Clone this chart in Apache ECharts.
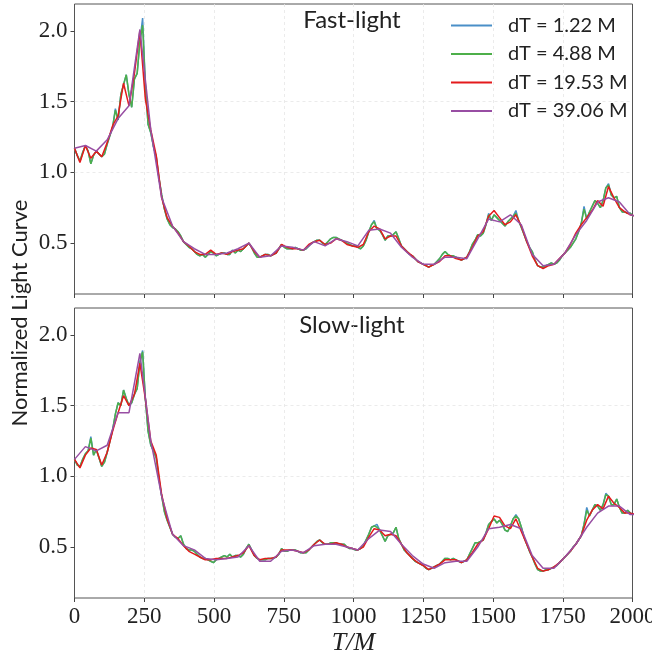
<!DOCTYPE html>
<html><head><meta charset="utf-8">
<script src="https://cdn.jsdelivr.net/npm/echarts@6/dist/echarts.min.js"></script>
<style>html,body{margin:0;padding:0;background:#fff}#c{width:652px;height:656px}</style>
</head><body><div id="c"></div>
<script>
// ---- data ----
const seriesNames = ['dT = 1.22 M', 'dT = 4.88 M', 'dT = 19.53 M', 'dT = 39.06 M'];
const panelTitles = ['Fast-light', 'Slow-light'];
const xTicks = [0, 250, 500, 750, 1000, 1250, 1500, 1750, 2000];
const yTicks = [0.5, 1.0, 1.5, 2.0];
const axisTitles = { x: 'T/M', y: 'Normalized Light Curve' };
// sample spacing (in M) of the traced curves
const fineStep = 9.766;
const redStep = 19.53;
const purpleStep = 39.06;

const fastBlue = [
1.17,1.12,1.08,1.14,1.19,1.15,1.06,1.12,1.15,1.13,
1.11,1.13,1.20,1.26,1.32,1.45,1.37,1.55,1.62,1.69,
1.55,1.46,1.66,1.70,1.93,2.09,1.62,1.34,1.28,1.18,
1.11,0.96,0.84,0.74,0.67,0.63,0.61,0.60,0.58,0.55,
0.51,0.49,0.47,0.46,0.44,0.42,0.41,0.42,0.40,0.42,
0.44,0.43,0.41,0.42,0.43,0.43,0.42,0.42,0.45,0.43,
0.45,0.44,0.46,0.48,0.50,0.47,0.43,0.40,0.40,0.41,
0.42,0.42,0.41,0.42,0.43,0.46,0.49,0.47,0.46,0.46,
0.46,0.47,0.46,0.45,0.45,0.46,0.48,0.50,0.51,0.52,
0.52,0.50,0.49,0.51,0.53,0.54,0.54,0.53,0.52,0.51,
0.50,0.49,0.48,0.48,0.47,0.46,0.48,0.52,0.58,0.63,
0.66,0.60,0.59,0.56,0.52,0.55,0.55,0.56,0.58,0.53,
0.48,0.46,0.44,0.42,0.41,0.39,0.37,0.36,0.35,0.34,
0.33,0.34,0.35,0.37,0.39,0.42,0.44,0.42,0.41,0.41,
0.40,0.39,0.38,0.39,0.40,0.44,0.49,0.52,0.56,0.55,
0.57,0.63,0.71,0.66,0.70,0.68,0.66,0.64,0.62,0.65,
0.67,0.69,0.73,0.66,0.61,0.56,0.51,0.47,0.44,0.38,
0.34,0.33,0.33,0.34,0.35,0.36,0.35,0.36,0.38,0.41,
0.43,0.45,0.47,0.50,0.53,0.58,0.64,0.76,0.67,0.72,
0.76,0.80,0.78,0.75,0.80,0.89,0.92,0.84,0.82,0.83,
0.75,0.72,0.72,0.71,0.71,0.69];
const fastGreen = [
1.17,1.12,1.08,1.14,1.19,1.15,1.06,1.12,1.15,1.13,
1.11,1.13,1.20,1.26,1.32,1.44,1.37,1.55,1.62,1.69,
1.55,1.46,1.66,1.70,1.92,2.04,1.62,1.34,1.28,1.18,
1.11,0.96,0.84,0.74,0.67,0.63,0.61,0.60,0.58,0.55,
0.51,0.49,0.47,0.46,0.44,0.42,0.41,0.42,0.40,0.42,
0.44,0.43,0.41,0.42,0.43,0.43,0.42,0.42,0.45,0.43,
0.45,0.44,0.46,0.48,0.50,0.47,0.43,0.40,0.40,0.41,
0.42,0.42,0.41,0.42,0.43,0.46,0.49,0.47,0.46,0.46,
0.46,0.47,0.46,0.45,0.45,0.46,0.48,0.50,0.51,0.52,
0.52,0.50,0.49,0.51,0.53,0.54,0.54,0.53,0.52,0.51,
0.50,0.49,0.48,0.48,0.47,0.46,0.48,0.52,0.58,0.63,
0.65,0.60,0.59,0.56,0.52,0.55,0.55,0.56,0.58,0.53,
0.48,0.46,0.44,0.42,0.41,0.39,0.37,0.36,0.35,0.34,
0.33,0.34,0.35,0.37,0.39,0.42,0.44,0.42,0.41,0.41,
0.40,0.39,0.38,0.39,0.40,0.44,0.49,0.52,0.56,0.55,
0.57,0.63,0.70,0.66,0.70,0.68,0.66,0.64,0.62,0.65,
0.67,0.69,0.71,0.66,0.61,0.56,0.51,0.47,0.44,0.38,
0.34,0.33,0.33,0.34,0.35,0.36,0.35,0.36,0.38,0.41,
0.43,0.45,0.47,0.50,0.53,0.58,0.64,0.74,0.67,0.72,
0.76,0.80,0.78,0.75,0.80,0.89,0.91,0.84,0.82,0.83,
0.75,0.72,0.72,0.71,0.71,0.69];
const fastRed = [
1.17,1.07,1.19,1.10,1.15,1.11,1.21,1.33,1.40,1.63,
1.47,1.70,2.00,1.52,1.30,1.12,0.82,0.68,0.62,0.57,
0.51,0.48,0.44,0.42,0.42,0.45,0.42,0.43,0.42,0.44,
0.45,0.46,0.50,0.44,0.40,0.42,0.41,0.43,0.49,0.47,
0.46,0.46,0.45,0.49,0.51,0.52,0.49,0.50,0.53,0.52,
0.49,0.48,0.47,0.49,0.58,0.62,0.60,0.53,0.55,0.55,
0.48,0.44,0.41,0.37,0.35,0.33,0.35,0.37,0.41,0.41,
0.39,0.38,0.40,0.47,0.55,0.58,0.69,0.73,0.68,0.63,
0.65,0.70,0.62,0.51,0.41,0.34,0.32,0.34,0.35,0.39,
0.43,0.49,0.57,0.63,0.68,0.73,0.80,0.76,0.90,0.82,
0.75,0.72,0.70,0.69];
const fastPurple = [
1.17,1.19,1.15,1.23,1.38,1.47,2.01,1.30,0.82,0.62,
0.51,0.46,0.42,0.42,0.43,0.46,0.50,0.40,0.41,0.48,
0.47,0.45,0.51,0.48,0.53,0.51,0.48,0.59,0.60,0.57,
0.47,0.40,0.35,0.35,0.40,0.40,0.39,0.53,0.67,0.65,
0.70,0.63,0.42,0.34,0.35,0.43,0.56,0.66,0.79,0.82,
0.79,0.70,0.68];

const slowBlue = [
1.12,1.08,1.07,1.12,1.16,1.18,1.28,1.15,1.19,1.13,
1.07,1.10,1.17,1.25,1.33,1.44,1.52,1.50,1.61,1.55,
1.50,1.52,1.58,1.62,1.81,1.89,1.55,1.32,1.22,1.18,
1.13,0.98,0.86,0.75,0.69,0.64,0.59,0.57,0.56,0.58,
0.52,0.49,0.48,0.48,0.47,0.45,0.43,0.42,0.42,0.41,
0.40,0.39,0.41,0.42,0.43,0.44,0.43,0.45,0.43,0.44,
0.44,0.43,0.45,0.49,0.52,0.48,0.44,0.42,0.41,0.41,
0.41,0.42,0.42,0.42,0.43,0.45,0.49,0.47,0.47,0.48,
0.48,0.48,0.47,0.46,0.46,0.46,0.48,0.50,0.52,0.54,
0.55,0.53,0.52,0.52,0.53,0.53,0.53,0.52,0.52,0.52,
0.50,0.49,0.49,0.48,0.48,0.49,0.51,0.55,0.59,0.64,
0.65,0.66,0.62,0.58,0.54,0.58,0.59,0.60,0.64,0.56,
0.52,0.48,0.46,0.44,0.42,0.40,0.39,0.38,0.37,0.35,
0.34,0.35,0.36,0.37,0.38,0.40,0.42,0.42,0.41,0.42,
0.41,0.40,0.39,0.40,0.41,0.45,0.49,0.53,0.53,0.54,
0.55,0.60,0.66,0.68,0.70,0.67,0.69,0.66,0.62,0.61,
0.65,0.70,0.73,0.70,0.64,0.57,0.52,0.47,0.43,0.38,
0.34,0.33,0.33,0.34,0.34,0.35,0.36,0.37,0.39,0.41,
0.43,0.45,0.47,0.50,0.52,0.55,0.58,0.66,0.78,0.72,
0.76,0.80,0.79,0.76,0.80,0.88,0.86,0.80,0.80,0.84,
0.78,0.74,0.74,0.76,0.74,0.73];
const slowGreen = [
1.12,1.08,1.07,1.12,1.16,1.18,1.27,1.15,1.19,1.13,
1.07,1.10,1.17,1.25,1.33,1.44,1.52,1.50,1.61,1.55,
1.50,1.52,1.58,1.62,1.80,1.88,1.55,1.32,1.22,1.18,
1.13,0.98,0.86,0.75,0.69,0.64,0.59,0.57,0.56,0.58,
0.52,0.49,0.48,0.48,0.47,0.45,0.43,0.42,0.42,0.41,
0.40,0.39,0.41,0.42,0.43,0.44,0.43,0.45,0.43,0.44,
0.44,0.43,0.45,0.49,0.52,0.48,0.44,0.42,0.41,0.41,
0.41,0.42,0.42,0.42,0.43,0.45,0.49,0.47,0.47,0.48,
0.48,0.48,0.47,0.46,0.46,0.46,0.48,0.50,0.52,0.54,
0.55,0.53,0.52,0.52,0.53,0.53,0.53,0.52,0.52,0.52,
0.50,0.49,0.49,0.48,0.48,0.49,0.51,0.55,0.59,0.64,
0.65,0.64,0.62,0.58,0.54,0.58,0.59,0.60,0.64,0.56,
0.52,0.48,0.46,0.44,0.42,0.40,0.39,0.38,0.37,0.35,
0.34,0.35,0.36,0.37,0.38,0.40,0.42,0.42,0.41,0.42,
0.41,0.40,0.39,0.40,0.41,0.45,0.49,0.53,0.53,0.54,
0.55,0.60,0.66,0.68,0.70,0.67,0.69,0.66,0.62,0.61,
0.65,0.70,0.72,0.70,0.64,0.57,0.52,0.47,0.43,0.38,
0.34,0.33,0.33,0.34,0.34,0.35,0.36,0.37,0.39,0.41,
0.43,0.45,0.47,0.50,0.52,0.55,0.58,0.66,0.76,0.72,
0.76,0.80,0.79,0.76,0.80,0.87,0.86,0.80,0.80,0.84,
0.78,0.74,0.74,0.76,0.74,0.73];
const slowRed = [
1.12,1.06,1.15,1.20,1.19,1.08,1.17,1.32,1.45,1.57,
1.50,1.58,1.80,1.55,1.25,1.15,0.87,0.70,0.59,0.56,
0.51,0.47,0.45,0.43,0.41,0.41,0.42,0.42,0.42,0.43,
0.44,0.46,0.51,0.44,0.41,0.42,0.42,0.43,0.48,0.48,
0.48,0.47,0.46,0.48,0.52,0.55,0.52,0.52,0.53,0.52,
0.50,0.49,0.48,0.50,0.57,0.63,0.62,0.58,0.59,0.58,
0.52,0.46,0.42,0.39,0.37,0.34,0.36,0.38,0.41,0.41,
0.41,0.39,0.41,0.46,0.52,0.55,0.63,0.72,0.71,0.65,
0.63,0.70,0.61,0.52,0.43,0.35,0.33,0.34,0.36,0.39,
0.43,0.47,0.52,0.58,0.69,0.76,0.80,0.77,0.86,0.81,
0.78,0.74,0.74,0.73];
const slowPurple = [
1.12,1.21,1.18,1.22,1.45,1.45,1.87,1.25,0.86,0.59,
0.51,0.48,0.42,0.41,0.42,0.43,0.51,0.40,0.40,0.47,
0.48,0.46,0.51,0.52,0.52,0.50,0.48,0.56,0.62,0.61,
0.52,0.44,0.38,0.35,0.39,0.40,0.40,0.50,0.63,0.64,
0.66,0.63,0.44,0.35,0.35,0.43,0.52,0.64,0.74,0.79,
0.79,0.73,0.73];

// ---- chart ----
const colors = ['#4a8fc8', '#4daf4a', '#e41a1c', '#984ea3'];
const panels = [
  [fastBlue, fastGreen, fastRed, fastPurple],
  [slowBlue, slowGreen, slowRed, slowPurple]
];
const steps = [fineStep, fineStep, redStep, purpleStep];
const pts = (vals, step) => vals.map((v, i) => [+(i * step).toFixed(3), v]);

const serifFont = 'Liberation Serif';
const sansFont = 'Lato';
const textColor = '#222';

const grids = [
  { left: 74.5, right: 19.5, top: 4, height: 290, show: true, borderColor: '#555', borderWidth: 1, outerBoundsMode: 'none', containLabel: false },
  { left: 74.5, right: 19.5, top: 308, height: 290, show: true, borderColor: '#555', borderWidth: 1, outerBoundsMode: 'none', containLabel: false }
];

const gridLine = { show: true, showMinLine: false, showMaxLine: false, lineStyle: { color: '#e6e6e6', type: [3, 3], width: 0.8 } };

const xAxes = [0, 1].map(g => ({
  type: 'value', gridIndex: g, min: xTicks[0], max: xTicks[xTicks.length - 1], interval: 250,
  axisLine: { show: false },
  axisTick: { show: true, length: 4, lineStyle: { color: '#444', width: 1 } },
  axisLabel: { show: g === 1, formatter: v => String(v), fontFamily: serifFont, fontSize: 23, color: textColor, margin: 7 },
  splitLine: gridLine,
  name: g === 1 ? axisTitles.x : '', nameLocation: 'middle', nameGap: 32,
  nameTextStyle: { fontFamily: serifFont, fontStyle: 'italic', fontSize: 26, color: textColor }
}));
const yAxes = [0, 1].map(g => ({
  type: 'value', gridIndex: g, min: 0.14, max: 2.19,
  axisLine: { show: false },
  axisTick: { show: true, length: 4, customValues: yTicks, lineStyle: { color: '#444', width: 1 } },
  axisLabel: { customValues: yTicks, formatter: v => v.toFixed(1), fontFamily: serifFont, fontSize: 23, color: textColor, margin: 7 },
  splitLine: gridLine
}));

const series = [];
panels.forEach((arrs, g) => {
  arrs.forEach((vals, k) => {
    series.push({
      type: 'line', name: seriesNames[k], xAxisIndex: g, yAxisIndex: g,
      data: pts(vals, steps[k]), showSymbol: false, symbol: 'none', clip: true,
      lineStyle: { color: colors[k], width: 1.5 }, itemStyle: { color: colors[k] },
      z: 2 + k, animation: false
    });
  });
});

const chart = echarts.init(document.getElementById('c'), null, { renderer: 'canvas' });
chart.setOption({
  animation: false,
  backgroundColor: '#fff',
  grid: grids, xAxis: xAxes, yAxis: yAxes, series: series,
  legend: {
    data: seriesNames, orient: 'vertical', left: 446, top: 10.5,
    itemWidth: 41, itemHeight: 2, itemGap: 8.5, icon: 'rect',
    textStyle: { fontFamily: sansFont, fontSize: 20, color: textColor, lineHeight: 20, padding: [0, 0, 0, 11] }
  },
  graphic: [
    { type: 'text', x: 352, y: 20, style: { text: panelTitles[0], font: '24px ' + sansFont, fill: textColor, align: 'center', verticalAlign: 'middle' } },
    { type: 'text', x: 352, y: 325, style: { text: panelTitles[1], font: '24px ' + sansFont, fill: textColor, align: 'center', verticalAlign: 'middle' } },
    { type: 'text', x: 20, y: 313, rotation: Math.PI / 2, style: { text: axisTitles.y, font: '22px ' + sansFont, fill: textColor, align: 'center', verticalAlign: 'middle' } }
  ]
});
</script></body></html>
